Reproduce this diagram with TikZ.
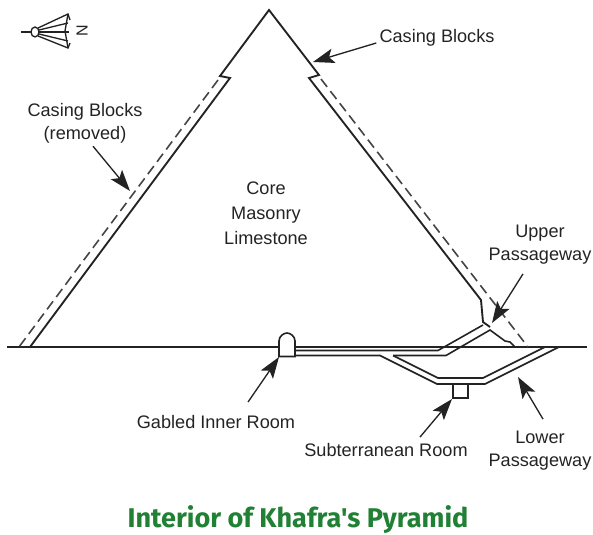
\documentclass[tikz,border=0pt]{standalone}
\usepackage{fontspec}
\setmainfont{Liberation Sans}
\newfontfamily\titlefont{Fira Sans}
\usetikzlibrary{arrows.meta}
\definecolor{ink}{RGB}{35,35,35}
\definecolor{titlegreen}{RGB}{32,128,52}

\begin{document}
\begin{tikzpicture}[x=0.75pt,y=-0.75pt,
  wall/.style={draw=ink,line width=1.4pt,line join=miter},
  thin wall/.style={draw=ink,line width=1.2pt,line join=miter},
  casing/.style={draw=ink!85,line width=1.2pt,dash pattern=on 7.5pt off 4pt},
  pointer/.style={draw=ink,line width=1pt,-{Stealth[length=16pt,width=11pt,inset=3.5pt]}},
  label/.style={font=\fontsize{13.6}{17.25}\selectfont,text=ink,align=center,inner sep=0pt},
  title/.style={font=\titlefont\bfseries\fontsize{20.3}{24}\selectfont,text=titlegreen,inner sep=0pt}
]
\useasboundingbox (0,0) rectangle (593,535);

% ground line
\draw[wall] (7,347) -- (587,347);

% pyramid faces: core edge with the step where the casing starts
\draw[wall] (30,347) -- (230,78) -- (220,76) -- (269,10) -- (319,75) -- (309,78)
            -- (481,300) -- (483,322) -- (490,327);
% removed casing blocks (dashed outer face)
\draw[casing] (218,80) -- (19,347);
\draw[casing] (321,79) -- (528,347);

% upper passageway and the horizontal corridor to the inner room
\draw[thin wall] (483,325) -- (438,350.5) -- (295,350.5);
\draw[thin wall] (295,355.5) -- (380,355.5) -- (437,384) -- (485,384) -- (559,347);
\draw[thin wall] (393,355.5) -- (446,355.5) -- (490,330) -- (505,341) -- (510,342) -- (515,347);
\draw[thin wall] (393,355.5) -- (438,378) -- (483,378) -- (545,347);

% subterranean room
\draw[thin wall] (453,384) -- (453,398) -- (468,398) -- (468,384);

% gabled inner room
\draw[thin wall,fill=white] (279,356.5) -- (279,341) .. controls (279,336) and (284,333) .. (287,333)
   .. controls (290,333) and (295,336) .. (295,341) -- (295,356.5) -- cycle;

% north marker
\begin{scope}[line width=1pt,draw=ink]
  \draw (21,32) -- (31,32);
  \draw (35,32) ellipse [x radius=4,y radius=5];
  \draw (38,28) -- (68,14) -- (70,20);
  \draw (38,36) -- (68,48) -- (70,43);
  \draw (39,30) -- (68,23);
  \draw (39,34) -- (68,41);
  \draw (39,32) -- (69,32);
  \draw (68,14) -- (65,31) -- (68,48);
\end{scope}
\node[label,rotate=90,font=\fontsize{12}{14}\selectfont] (north) at (82,31) {N};

% labels
\node[label] (casingTop) at (437,38) {Casing Blocks};
\node[label] (casingRem) at (85,123) {Casing Blocks\\(removed)};
\node[label,font=\fontsize{13.6}{18.75}\selectfont] (core) at (266,213) {Core\\Masonry\\Limestone};
\node[label] (upper) at (540,245) {Upper\\Passageway};
\node[label] (gabled) at (216,422) {Gabled Inner Room};
\node[label] (subter) at (386,450) {Subterranean Room};
\node[label] (lower) at (540,451) {Lower\\Passageway};
\node[title] (title) at (298,520) {Interior of Khafra's Pyramid};

% pointers
\coordinate (casingTopTip) at (313,62);
\coordinate (casingRemTip) at (130,191);
\coordinate (upperTip) at (492,323);
\coordinate (gabledTip) at (279,357);
\coordinate (subterTip) at (452,399);
\coordinate (lowerTip) at (518,377);
\draw[pointer] ([shift={(-3,5)}]casingTop.west) -- (casingTopTip);
\draw[pointer] ([shift={(8,3)}]casingRem.south) -- (casingRemTip);
\draw[pointer] ([shift={(-17,9)}]upper.south) -- (upperTip);
\draw[pointer] ([shift={(32,-13)}]gabled.north) -- (gabledTip);
\draw[pointer] ([shift={(34,-6)}]subter.north) -- (subterTip);
\draw[pointer] ([shift={(3,-12)}]lower.north) -- (lowerTip);
\end{tikzpicture}
\end{document}
